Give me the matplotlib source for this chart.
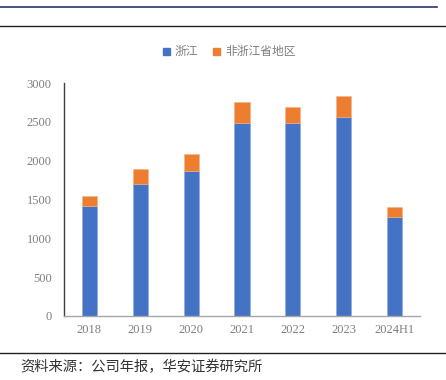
import matplotlib.pyplot as plt
from matplotlib.lines import Line2D
from matplotlib.patches import Patch

plt.rcParams['font.family'] = ['Noto Sans CJK SC', 'DejaVu Sans']

years = ['2018', '2019', '2020', '2021', '2022', '2023', '2024H1']
zhejiang = [1410, 1703, 1870, 2480, 2480, 2565, 1278]
totals = [1545, 1888, 2081, 2754, 2690, 2831, 1407]
other = [t - z for t, z in zip(totals, zhejiang)]

blue = '#4472C4'
orange = '#ED7D31'

fig = plt.figure(figsize=(4.46, 3.80), dpi=100)
W, H = 446, 380
ax = fig.add_axes([64 / W, 1 - 316 / H, 356 / W, 233 / H])

x = range(len(years))
ax.bar(x, zhejiang, width=0.3, color=blue, edgecolor='#8faadc', linewidth=0.4)
ax.bar(x, other, bottom=zhejiang, width=0.3, color=orange, edgecolor='#f4b183', linewidth=0.4)

ax.set_xlim(-0.5, 6.5)
ax.set_ylim(0, 3000)
ax.set_yticks(range(0, 3001, 500))
ax.set_xticks(list(x))
ax.set_xticklabels(years)
for s in ['top', 'right']:
    ax.spines[s].set_visible(False)
ax.spines['left'].set_color('#404040')
ax.spines['left'].set_linewidth(1.0)
ax.spines['bottom'].set_color('#a6a6a6')
ax.spines['bottom'].set_linewidth(1.0)
ax.tick_params(length=0, labelsize=9, colors='#7f7f7f')
ax.tick_params(axis='x', pad=6)
ax.tick_params(axis='y', pad=9)
for lab in ax.get_xticklabels() + ax.get_yticklabels():
    lab.set_fontfamily('Liberation Serif')

# legend
handles = [Patch(color=blue), Patch(color=orange)]
fig.legend(handles, ['浙江', '非浙江省地区'], loc='center', bbox_to_anchor=(229 / W, 1 - 52 / H),
           ncol=2, frameon=False, fontsize=8.5, handlelength=0.6, handleheight=0.6,
           handletextpad=0.4, columnspacing=1.3, labelcolor='#7f7f7f')

# header / footer rules
fig.add_artist(Line2D([0, 437 / W], [1 - 7 / H, 1 - 7 / H], color='#1f3864', lw=1.2))
fig.add_artist(Line2D([0, 1], [1 - 26 / H, 1 - 26 / H], color='#222222', lw=1.0))
fig.add_artist(Line2D([0, 1], [1 - 353 / H, 1 - 353 / H], color='#222222', lw=1.0))
fig.text(20 / W, 1 - 367 / H, '资料来源：公司年报，华安证券研究所', fontsize=10.3,
         color='#333333', va='center', ha='left')

fig.savefig('out.png', dpi=100)
